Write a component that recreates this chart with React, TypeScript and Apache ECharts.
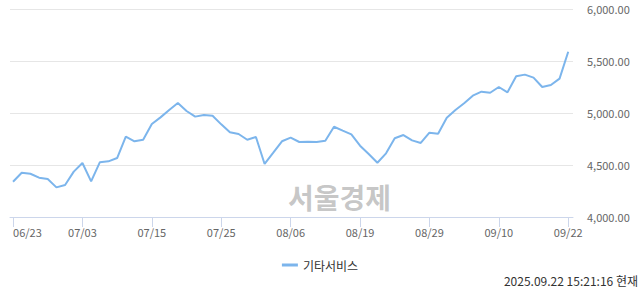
import React, { useEffect, useRef } from "react";
import * as echarts from "echarts";

const dateLabels = ["06/23", "07/03", "07/15", "07/25", "08/06", "08/19", "08/29", "09/10", "09/22"];
const labelIndices = [0, 8, 16, 24, 32, 40, 48, 56, 64];
const values = [
  4339, 4426, 4416, 4378, 4365, 4285, 4308, 4436, 4519, 4343,
  4526, 4535, 4567, 4772, 4728, 4743, 4894, 4958, 5029, 5096,
  5019, 4965, 4981, 4974, 4891, 4814, 4798, 4743, 4769, 4510,
  4618, 4728, 4763, 4721, 4724, 4721, 4734, 4868, 4830, 4795,
  4686, 4606, 4522, 4612, 4757, 4788, 4737, 4712, 4811, 4801,
  4955, 5029, 5093, 5167, 5205, 5195, 5250, 5199, 5353, 5369,
  5340, 5250, 5269, 5330, 5589,
];
const seriesName = "기타서비스";
const yTicks = [4000, 4500, 5000, 5500, 6000];

export default function App() {
  const ref = useRef<HTMLDivElement>(null);
  useEffect(() => {
    const chart = echarts.init(ref.current!, null, { renderer: "svg" });
    const font = "'Malgun Gothic', 'Noto Sans CJK KR', 'Noto Sans', sans-serif";
    chart.setOption({
      animation: false,
      textStyle: { fontFamily: font },
      grid: { left: 10, right: 67, top: 9, bottom: 77, outerBoundsMode: "none", containLabel: false },
      legend: {
        data: [{ name: seriesName, icon: "rect" }],
        bottom: 18,
        left: "center",
        itemWidth: 16,
        itemHeight: 3,
        itemGap: 5,
        textStyle: { fontSize: 12, color: "#333", fontFamily: font },
      },
      graphic: [
        {
          type: "text",
          left: 288,
          top: 183,
          z: 0,
          silent: true,
          style: {
            text: "서울경제",
            fontSize: 28,
            fontWeight: "bold",
            fill: "rgba(150,150,150,0.55)",
            fontFamily: font,
          },
        },
        {
          type: "text",
          right: 2,
          top: 274,
          style: {
            text: "2025.09.22 15:21:16 현재",
            fontSize: 12,
            fill: "#333",
            fontFamily: font,
          },
        },
      ],
      xAxis: {
        type: "value",
        min: -0.35,
        max: 64.55,
        splitLine: { show: false },
        axisLine: { show: true, lineStyle: { color: "#ccd6eb" } },
        axisTick: {
          show: true,
          customValues: labelIndices,
          length: 10,
          lineStyle: { color: "#ccd6eb" },
        },
        axisLabel: {
          customValues: labelIndices,
          formatter: (v: number) => dateLabels[labelIndices.indexOf(Math.round(v))] ?? "",
          color: "#666",
          fontSize: 11,
          margin: 9,
          alignMinLabel: "left",
        },
      },
      yAxis: {
        type: "value",
        position: "right",
        min: 4000,
        max: 6000,
        interval: 500,
        axisLine: { show: false },
        axisTick: { show: false },
        splitLine: { lineStyle: { color: "#e6e6e6" } },
        axisLabel: {
          color: "#666",
          fontSize: 11,
          margin: 14,
          formatter: (v: number) =>
            yTicks.includes(v)
              ? v.toLocaleString("en-US", { minimumFractionDigits: 2, maximumFractionDigits: 2 })
              : "",
        },
      },
      series: [
        {
          name: seriesName,
          type: "line",
          data: values.map((v, i) => [i, v]),
          showSymbol: false,
          symbol: "none",
          z: 5,
          lineStyle: { color: "#7cb5ec", width: 2 },
          itemStyle: { color: "#7cb5ec" },
        },
      ],
    });
    return () => chart.dispose();
  }, []);
  return <div ref={ref} style={{ width: 640, height: 294, position: "absolute", left: 0, top: 0 }} />;
}
